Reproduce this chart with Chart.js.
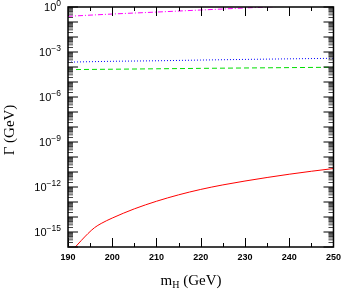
<!DOCTYPE html>
<html>
<head>
<meta charset="utf-8">
<script src="https://cdn.jsdelivr.net/npm/chart.js@4"></script>
<style>
  html, body { margin: 0; padding: 0; background: #fff; }
  canvas { display: block; }
</style>
</head>
<body>
<canvas id="chart" width="346" height="290"></canvas>
<script>
// Higgs mass grid (GeV) and partial widths (GeV)
const massGrid = [190, 200, 210, 220, 230, 240, 250];
const widthMagenta = [0.24, 0.34, 0.46, 0.63, 0.86, 1.15, 1.5];
const widthBlue = [2.1e-4, 2.4e-4, 2.6e-4, 2.9e-4, 3.2e-4, 3.5e-4, 3.8e-4];
const widthGreen = [6.7e-5, 7.1e-5, 7.6e-5, 8.1e-5, 8.6e-5, 9.1e-5, 9.6e-5];

const massRed = [191.65, 193, 194.5, 196, 197.5, 200, 205, 210, 215, 220, 225, 230, 235, 240, 245, 250];
const widthRed = [1e-16, 2.7e-16, 7.8e-16, 1.95e-15, 3.7e-15, 8.5e-15, 3.5e-14, 1.12e-13, 3.0e-13,
                  6.9e-13, 1.38e-12, 2.5e-12, 4.3e-12, 7.1e-12, 1.12e-11, 1.7e-11];

// tick labels
const xTickValues = [190, 195, 200, 205, 210, 215, 220, 225, 230, 235, 240, 245, 250];
const yLabelExps = [0, -3, -6, -9, -12, -15];

const pts = (xs, ys) => xs.map((x, i) => ({ x: x, y: ys[i] }));

// ticks pointing inward on all four sides + y labels + axis titles
const framePlugin = {
  id: 'frame',
  afterDraw(chart) {
    const ctx = chart.ctx;
    const a = chart.chartArea;
    const x = chart.scales.x;
    const y = chart.scales.y;
    ctx.save();
    ctx.strokeStyle = '#000';
    ctx.lineWidth = 1;

    // x ticks (bottom and top)
    xTickValues.forEach(v => {
      const px = Math.round(x.getPixelForValue(v)) + 0.5;
      const len = v % 10 === 0 ? 9 : 4;
      ctx.beginPath();
      ctx.moveTo(px, a.bottom); ctx.lineTo(px, a.bottom - len);
      ctx.moveTo(px, a.top); ctx.lineTo(px, a.top + len);
      ctx.stroke();
    });

    // y ticks (left and right), decades + minor
    for (let e = -16; e <= 0; e++) {
      for (let m = 1; m <= 9; m++) {
        const v = m * Math.pow(10, e);
        if (v > 1) break;
        const py = y.getPixelForValue(v);
        const len = m === 1 ? 10 : 5;
        ctx.strokeStyle = m === 1 ? '#000' : '#444';
        ctx.beginPath();
        ctx.moveTo(a.left, py); ctx.lineTo(a.left + len, py);
        ctx.moveTo(a.right, py); ctx.lineTo(a.right - len, py);
        ctx.stroke();
      }
    }

    // frame
    ctx.strokeStyle = '#000';
    ctx.lineWidth = 1.5;
    ctx.strokeRect(a.left, a.top, a.right - a.left, a.bottom - a.top);

    // y labels 10^n
    ctx.fillStyle = '#000';
    ctx.textBaseline = 'alphabetic';
    ctx.textAlign = 'left';
    yLabelExps.forEach(e => {
      const py = y.getPixelForValue(Math.pow(10, e));
      const expText = e === 0 ? '0' : '\u2212' + Math.abs(e);
      ctx.font = '8.5px "Liberation Sans"';
      const wExp = ctx.measureText(expText).width;
      ctx.font = '11px "Liberation Sans"';
      const wBase = ctx.measureText('10').width;
      const right = a.left - 7;
      ctx.fillText('10', right - wExp - wBase, py + 4);
      ctx.font = '8.5px "Liberation Sans"';
      ctx.fillText(expText, right - wExp, py - 1.5);
    });

    // y title
    ctx.save();
    ctx.translate(10, (a.top + a.bottom) / 2 + 3);
    ctx.rotate(-Math.PI / 2);
    ctx.font = '15px "Liberation Serif"';
    ctx.textAlign = 'center';
    ctx.textBaseline = 'middle';
    ctx.fillText('\u0393 (GeV)', 0, 0);
    ctx.restore();

    // x title m_H (GeV)
    ctx.font = '15px "Liberation Serif"';
    const wM = ctx.measureText('m').width;
    const wRest = ctx.measureText(' (GeV)').width;
    ctx.font = '10px "Liberation Serif"';
    const wH = ctx.measureText('H').width;
    const total = wM + wH + wRest;
    let tx = 191 - total / 2;
    const ty = 285;
    ctx.font = '15px "Liberation Serif"';
    ctx.fillText('m', tx, ty);
    tx += wM;
    ctx.font = '10px "Liberation Serif"';
    ctx.fillText('H', tx, ty + 3);
    tx += wH;
    ctx.font = '15px "Liberation Serif"';
    ctx.fillText(' (GeV)', tx, ty);
    ctx.restore();
  }
};

const line = (data, color, dash) => ({
  data: data,
  borderColor: color,
  borderWidth: 1,
  borderDash: dash,
  pointRadius: 0,
  fill: false,
  cubicInterpolationMode: 'monotone'
});

new Chart(document.getElementById('chart'), {
  type: 'line',
  data: {
    datasets: [
      line(pts(massGrid, widthMagenta), '#ff00ff', [5, 2, 1, 2]),
      line(pts(massGrid, widthBlue), '#0000ff', [1, 2]),
      line(pts(massGrid, widthGreen), '#00dd00', [5, 3]),
      line(pts(massRed, widthRed), '#ff0000', [])
    ]
  },
  options: {
    responsive: false,
    animation: false,
    layout: { padding: { top: 7, right: 9, left: 0, bottom: 0 } },
    plugins: { legend: { display: false }, tooltip: { enabled: false } },
    scales: {
      x: {
        type: 'linear',
        min: 190,
        max: 250,
        ticks: {
          stepSize: 10,
          color: '#000',
          padding: 5,
          font: { family: 'Liberation Sans', size: 9, weight: 'bold' }
        },
        grid: { display: false, drawTicks: false },
        border: { display: false },
        afterFit(s) { s.height = 43; }
      },
      y: {
        type: 'logarithmic',
        min: 1e-16,
        max: 1,
        ticks: { display: false },
        grid: { display: false, drawTicks: false },
        border: { display: false },
        afterFit(s) { s.width = 68; }
      }
    }
  },
  plugins: [framePlugin]
});
</script>
</body>
</html>
